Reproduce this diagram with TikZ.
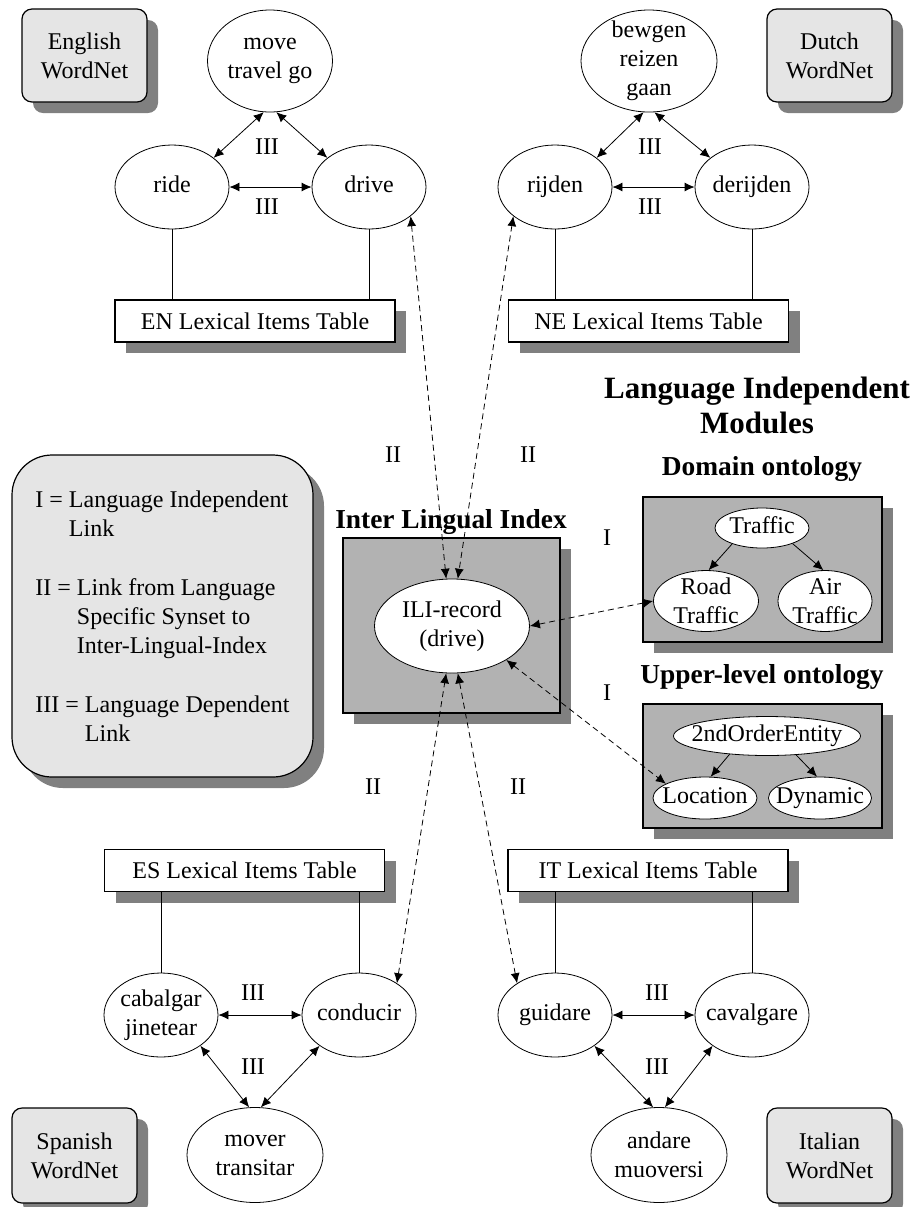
\documentclass[tikz,border=0pt]{standalone}
\usepackage{fontspec}
\setmainfont{Liberation Serif}
\usetikzlibrary{shapes.geometric,arrows.meta,shadows}

\begin{document}
\begin{tikzpicture}
      [x=0.5pt,y=-0.5pt,
      >={Latex[length=5pt,width=4.5pt]},
      every node/.style={font=\fontsize{12}{14.5}\selectfont,align=center},
      boxshadow/.style={drop shadow={shadow xshift=5.5pt,shadow yshift=-5.5pt,fill=gray,opacity=1}},
      syn/.style={ellipse,draw,fill=white,inner sep=-6pt,minimum width=57pt,minimum height=42pt},
      lexbox/.style={draw,line width=0.6pt,fill=white,minimum width=140pt,minimum height=21pt,boxshadow},
      netbox/.style={draw,line width=0.6pt,fill=gray!20,rounded corners=5pt,minimum width=62.5pt,minimum height=46.5pt,boxshadow},
      modbox/.style={draw,line width=0.6pt,fill=gray!60,boxshadow},
      title/.style={font=\fontsize{13.7}{16}\selectfont\bfseries},
      rel/.style={<->},
      isa/.style={->},
      cross/.style={<->,dash pattern=on 3pt off 2pt}]
     \useasboundingbox (0,0) rectangle (914,1207);
     % wordnets and lexical tables
     \node[netbox] (enwn) at (84.5,55.5) {English\\WordNet};
     \node[netbox] (nlwn) at (829.5,55.5) {Dutch\\WordNet};
     \node[netbox,minimum height=47.5pt] (eswn) at (74.5,1155.5) {Spanish\\WordNet};
     \node[netbox,minimum height=47.5pt] (itwn) at (829.5,1155.5) {Italian\\WordNet};
     \node[lexbox] (entab) at (255,321) {EN Lexical Items Table};
     \node[lexbox] (nltab) at (648.5,321) {NE Lexical Items Table};
     \node[lexbox] (estab) at (244.5,870.5) {ES Lexical Items Table};
     \node[lexbox] (ittab) at (648,870.5) {IT Lexical Items Table};
     % legend
     \node[draw,line width=0.6pt,fill=gray!20,rounded corners=20pt,minimum width=150.5pt,minimum height=161pt,align=left,boxshadow] (legend) at (162.5,616)
        {I = Language Independent\\
         \phantom{I = }Link\\[15pt]
         II = Link from Language\\
         \phantom{II = }Specific Synset to\\
         \phantom{II = }Inter-Lingual-Index\\[15pt]
         III = Language Dependent\\
         \phantom{III = }Link};
     % language independent part
     \node[modbox,minimum width=108.5pt,minimum height=87.5pt] (ilibox) at (451.5,625.5) {};
     \node[modbox,minimum width=119.5pt,minimum height=72.5pt] (dombox) at (762.5,569.5) {};
     \node[modbox,minimum width=119.5pt,minimum height=62pt] (upbox) at (762.5,766) {};
     \node[title] (ilititle) at (451,522) {Inter Lingual Index};
     \node[title,font=\fontsize{15.5}{17.5}\selectfont\bfseries] (limtitle) at (757,405) {Language Independent\\Modules};
     \node[title] (domtitle) at (762,469) {Domain ontology};
     \node[title] (uptitle) at (762,677) {Upper-level ontology};
     % synsets
     \node[syn,minimum width=62.5pt,minimum height=51pt] (move) at (270,61) {move\\travel go};
     \node[syn] (ride) at (172,187) {\strut ride};
     \node[syn] (drive) at (369,187) {\strut drive};
     \node[syn,minimum width=68pt,minimum height=51pt] (bewgen) at (649,61) {bewgen\\reizen\\gaan};
     \node[syn] (rijden) at (555,187) {\strut rijden};
     \node[syn] (derijden) at (752,187) {\strut derijden};
     \node[syn] (cabalgar) at (161,1015) {cabalgar\\jinetear};
     \node[syn] (conducir) at (359,1015) {\strut conducir};
     \node[syn,minimum width=68pt,minimum height=47.5pt] (mover) at (255,1155) {mover\\transitar};
     \node[syn] (guidare) at (555,1015) {\strut guidare};
     \node[syn] (cavalgare) at (752,1015) {\strut cavalgare};
     \node[syn,minimum width=68pt,minimum height=47.5pt] (andare) at (659,1155) {andare\\muoversi};
     \node[syn,minimum width=77.5pt,minimum height=47pt] (ili) at (452,626) {ILI-record\\(drive)};
     \node[syn,minimum width=47pt,minimum height=20pt] (traffic) at (762,528) {\strut Traffic};
     \node[syn,minimum width=52.5pt,minimum height=30.5pt] (road) at (706,601) {Road\\Traffic};
     \node[syn,minimum width=47pt,minimum height=30.5pt] (air) at (825,601) {Air\\Traffic};
     \node[syn,minimum width=93.5pt,minimum height=19.5pt] (entity) at (767,736) {\strut 2ndOrderEntity};
     \node[syn,minimum width=52pt,minimum height=21pt] (location) at (705,798) {\strut Location};
     \node[syn,minimum width=51.5pt,minimum height=21pt] (dynamic) at (820,798) {\strut Dynamic};
     % language dependent links
     \draw[rel] (move.263) -- (ride.35);
     \draw[rel] (move.277) -- (drive.145);
     \draw[rel] (ride) -- (drive);
     \draw[rel] (bewgen.264) -- (rijden.35);
     \draw[rel] (bewgen.276) -- (derijden.145);
     \draw[rel] (rijden) -- (derijden);
     \draw[rel] (cabalgar.322) -- (mover.97);
     \draw[rel] (conducir.218) -- (mover.83);
     \draw[rel] (cabalgar) -- (conducir);
     \draw[rel] (guidare.322) -- (andare.97);
     \draw[rel] (cavalgare.218) -- (andare.83);
     \draw[rel] (guidare) -- (cavalgare);
     \node (iiien) at (267,147) {III};
     \node (iiienb) at (267,207) {III};
     \node (iiinl) at (650,147) {III};
     \node (iiinlb) at (650,207) {III};
     \node (iiies) at (253,993) {III};
     \node (iiiesb) at (253,1067) {III};
     \node (iiiit) at (657,993) {III};
     \node (iiiitb) at (657,1067) {III};
     % synsets to tables
     \draw (ride.south) -- (ride.south |- entab.north);
     \draw (drive.south) -- (drive.south |- entab.north);
     \draw (rijden.south) -- (rijden.south |- nltab.north);
     \draw (derijden.south) -- (derijden.south |- nltab.north);
     \draw (cabalgar.north) -- (cabalgar.north |- estab.south);
     \draw (conducir.north) -- (conducir.north |- estab.south);
     \draw (guidare.north) -- (guidare.north |- ittab.south);
     \draw (cavalgare.north) -- (cavalgare.north |- ittab.south);
     % links to the index
     \draw[cross] (drive.-35) -- (ili.97);
     \draw[cross] (rijden.215) -- (ili.83);
     \draw[cross] (conducir.40) -- (ili.263);
     \draw[cross] (guidare.140) -- (ili.277);
     \draw[cross] (ili.east) -- (road.west);
     \draw[cross] (ili.-32) -- (location.160);
     \node (iien) at (393,455) {II};
     \node (iinl) at (528,455) {II};
     \node (iies) at (373,787) {II};
     \node (iiit) at (518,787) {II};
     \node (idom) at (607,538) {I};
     \node (iup) at (607,693) {I};
     % ontologies
     \draw[isa] (traffic.208) -- (road.85);
     \draw[isa] (traffic.-27) -- (air.93);
     \draw[isa] (entity.206) -- (location.75);
     \draw[isa] (entity.-33) -- (dynamic.98);
\end{tikzpicture}
\end{document}
